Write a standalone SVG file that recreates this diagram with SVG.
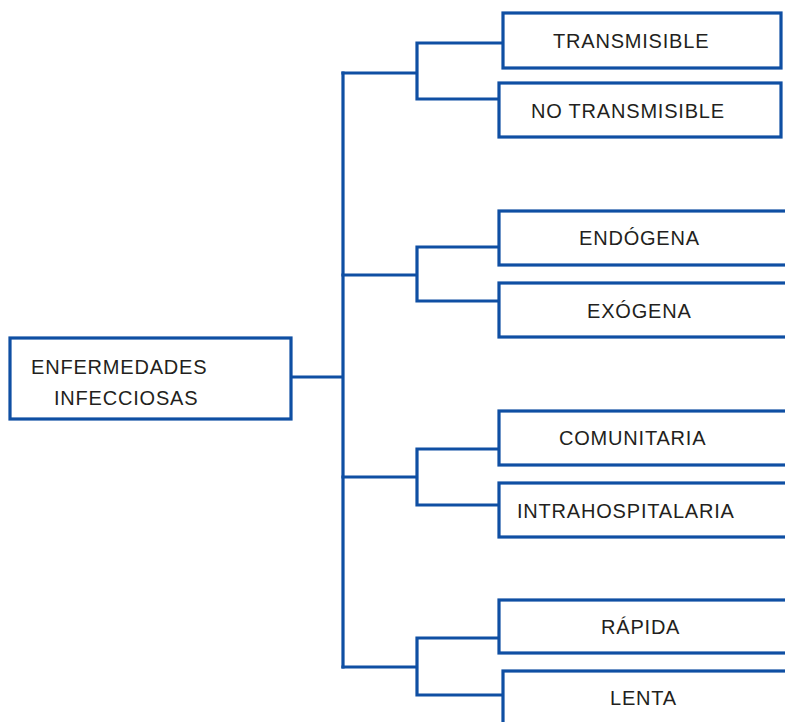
<svg xmlns="http://www.w3.org/2000/svg" width="785" height="722" viewBox="0 0 785 722">
<style>
.box{fill:#fff;stroke:#0f4fa3;stroke-width:3.2}
.ln{fill:none;stroke:#0f4fa3;stroke-width:3.2;stroke-linejoin:miter;stroke-linecap:square}
text{font-family:"Liberation Sans",Arial,sans-serif;font-size:20px;fill:#231f20;letter-spacing:0.8px}
</style>
<rect width="785" height="722" fill="#fff"/>
<g id="connectors">
<path class="ln" d="M292 377H343M343 73V667"/>
<path class="ln" d="M343 73H417M417 43V99M417 43H502M417 99H498"/>
<path class="ln" d="M343 275H417M417 247V301M417 247H499M417 301H499"/>
<path class="ln" d="M343 477H417M417 449V505M417 449H499M417 505H499"/>
<path class="ln" d="M343 667H417M417 638V695M417 638H498M417 695H503"/>
</g>
<g id="root"><rect class="box" x="10" y="338" width="281" height="81"/><text x="31" y="374">ENFERMEDADES</text><text x="54" y="405">INFECCIOSAS</text></g>
<g id="transmisible"><rect class="box" x="503" y="13" width="278" height="55"/><text x="553" y="48">TRANSMISIBLE</text></g>
<g id="no-transmisible"><rect class="box" x="499" y="83" width="282" height="54"/><text x="531" y="118">NO TRANSMISIBLE</text></g>
<g id="endogena"><rect class="box" x="499" y="211" width="300" height="54"/><text x="579" y="245">ENDÓGENA</text></g>
<g id="exogena"><rect class="box" x="499" y="283" width="300" height="54"/><text x="587" y="318">EXÓGENA</text></g>
<g id="comunitaria"><rect class="box" x="499" y="411" width="300" height="54"/><text x="559" y="445">COMUNITARIA</text></g>
<g id="intrahospitalaria"><rect class="box" x="499" y="483" width="300" height="54"/><text x="517" y="518">INTRAHOSPITALARIA</text></g>
<g id="rapida"><rect class="box" x="499" y="600" width="300" height="53"/><text x="601" y="634">RÁPIDA</text></g>
<g id="lenta"><rect class="box" x="503" y="671" width="300" height="70"/><text x="610" y="705">LENTA</text></g>
</svg>
